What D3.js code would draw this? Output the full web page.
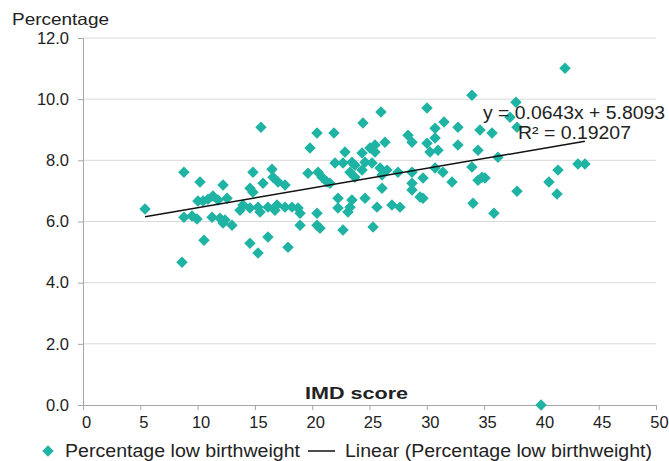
<!DOCTYPE html>
<html><head><meta charset="utf-8">
<script src="https://cdn.jsdelivr.net/npm/d3@7"></script>
<style>body{margin:0;background:#fff}svg{display:block}text{font-family:"Liberation Sans",Arial,sans-serif;fill:#222}</style>
</head><body><svg id="c" width="669" height="461"></svg>
<script>
const imd = [5.41,8.81,10.21,10.03,10.47,10.91,11.34,8.81,9.51,9.95,11.26,10.56,8.64,
15.53,14.83,16.49,16.58,15.71,17.02,17.63,12.22,14.57,14.83,12.57,11.78,13.96,14.57,15.27,16.14,16.93,17.63,15.45,16.75,13.70,11.95,12.39,13.00,12.22,16.14,14.57,15.27,17.89,
24.43,20.42,21.90,19.81,22.86,21.99,22.69,23.47,23.73,24.35,23.30,23.73,19.63,20.51,20.86,21.29,21.55,22.25,23.47,22.25,23.30,23.12,18.24,18.76,18.94,20.42,18.94,20.42,20.68,22.69,
26.00,30.02,28.36,28.71,26.35,25.48,25.04,25.48,24.35,24.61,30.02,30.72,30.28,30.98,25.22,25.92,26.53,26.09,27.49,28.71,29.67,28.71,28.71,26.09,24.61,25.65,26.96,27.66,29.41,29.67,25.31,
33.94,31.50,32.72,30.72,34.64,35.69,32.72,34.47,36.21,30.72,33.94,31.41,32.20,34.82,35.08,34.47,34.03,35.86,
42.06,37.78,37.26,37.87,41.45,40.66,41.36,37.87,43.19,43.80,39.97];
const lowBw = [6.41,7.61,7.29,6.67,6.67,6.73,6.83,6.14,6.18,6.08,6.14,5.39,4.67,
9.08,7.61,7.71,7.45,7.25,7.29,7.19,7.19,7.09,6.96,6.76,6.70,6.54,6.44,6.47,6.47,6.54,6.47,6.31,6.37,6.37,6.11,6.05,5.88,5.95,5.49,5.29,4.97,5.16,
9.22,8.89,8.89,8.40,8.27,7.91,7.91,7.94,7.84,7.68,7.61,7.45,7.58,7.61,7.45,7.29,7.25,6.76,6.70,6.44,6.47,6.31,6.47,6.44,6.27,6.27,5.88,5.88,5.78,5.72,
9.58,9.71,8.82,8.59,8.59,8.50,8.40,8.27,8.24,7.94,8.56,8.73,8.27,8.33,7.91,7.75,7.68,7.52,7.61,7.61,7.42,7.25,7.03,7.09,6.76,6.47,6.54,6.47,6.80,6.76,5.82,
10.13,9.25,9.08,9.05,8.99,8.89,8.50,8.33,8.10,7.75,7.78,7.61,7.29,7.45,7.42,7.35,6.60,6.27,
11.01,9.90,9.41,9.08,7.68,7.29,6.90,6.99,7.88,7.88,0.0];
const slope = 0.0643, intercept = 5.8093;
const eqLabel = "y = 0.0643x + 5.8093";
const r2Label = "R² = 0.19207";
const yTicks = [0,2,4,6,8,10,12];
const xTicks = [0,5,10,15,20,25,30,35,40,45,50];
const yTitle = "Percentage", xTitle = "IMD score";
const legendLabels = ["Percentage low birthweight", "Linear (Percentage low birthweight)"];

const svg = d3.select("#c");
const x = d3.scaleLinear().domain([0,50]).range([83,656]);
const y = d3.scaleLinear().domain([0,12]).range([405,38]);
const teal = "#1fb3a3";
const FONT = '"Liberation Sans",Arial,sans-serif';

// gridlines
svg.append("g").selectAll("line").data(yTicks.filter(d=>d>0)).join("line")
  .attr("x1", x(0)).attr("x2", x(50)).attr("y1", d=>y(d)).attr("y2", d=>y(d))
  .attr("stroke", "#d9d9d9").attr("stroke-width", 1);

// y axis
const ya = svg.append("g").attr("transform", `translate(${x(0)},0)`)
  .call(d3.axisLeft(y).tickValues(yTicks).tickFormat(d3.format(".1f")).tickSize(5).tickPadding(9));
ya.select(".domain").attr("stroke", "#a6a6a6");
ya.selectAll(".tick line").attr("stroke", "#a6a6a6");
ya.selectAll("text").style("font-size", "16.5px").attr("fill", "#222").style("font-family", FONT);

// x axis
const xa = svg.append("g").attr("transform", `translate(0,${y(0)})`)
  .call(d3.axisBottom(x).tickValues(xTicks).tickSize(5).tickPadding(6));
xa.select(".domain").attr("stroke", "#a6a6a6");
xa.selectAll(".tick line").attr("stroke", "#a6a6a6");
xa.selectAll("text").style("font-size", "16.5px").attr("fill", "#222").style("font-family", FONT)
  .attr("dx", 3);

// points
const pts = imd.map((v,i)=>({x:v, y:lowBw[i]}));
const sym = d3.symbol().type(d3.symbolSquare).size(66);
svg.append("g").selectAll("path").data(pts).join("path")
  .attr("d", sym)
  .attr("transform", d=>`translate(${x(d.x)},${y(d.y)}) rotate(45)`)
  .attr("fill", teal);

// trendline
const xmin = d3.min(imd), xmax = d3.max(imd);
svg.append("line")
  .attr("x1", x(xmin)).attr("y1", y(slope*xmin+intercept))
  .attr("x2", x(xmax)).attr("y2", y(slope*xmax+intercept))
  .attr("stroke", "#111").attr("stroke-width", 1.5);

function txt(s, px, py, size, len, opts={}) {
  const t = svg.append("text").attr("x", px).attr("y", py).style("font-size", size+"px")
    .attr("textLength", len).attr("lengthAdjust", "spacingAndGlyphs").text(s);
  if (opts.bold) t.style("font-weight", "bold");
  return t;
}

// equation
txt(eqLabel, 483, 119, 18, 182);
txt(r2Label, 518, 139, 18, 113);

// titles
txt(yTitle, 12, 25, 16.5, 97);
txt(xTitle, 305, 399, 16.5, 103, {bold:true});

// legend
const ly = 451;
svg.append("path").attr("d", sym).attr("transform", `translate(48,${ly}) rotate(45)`).attr("fill", teal);
txt(legendLabels[0], 65, ly+6, 17.5, 235);
svg.append("line").attr("x1", 308).attr("x2", 335).attr("y1", ly).attr("y2", ly).attr("stroke", "#111").attr("stroke-width", 1.5);
txt(legendLabels[1], 345, ly+6, 17.5, 307);
</script></body></html>
